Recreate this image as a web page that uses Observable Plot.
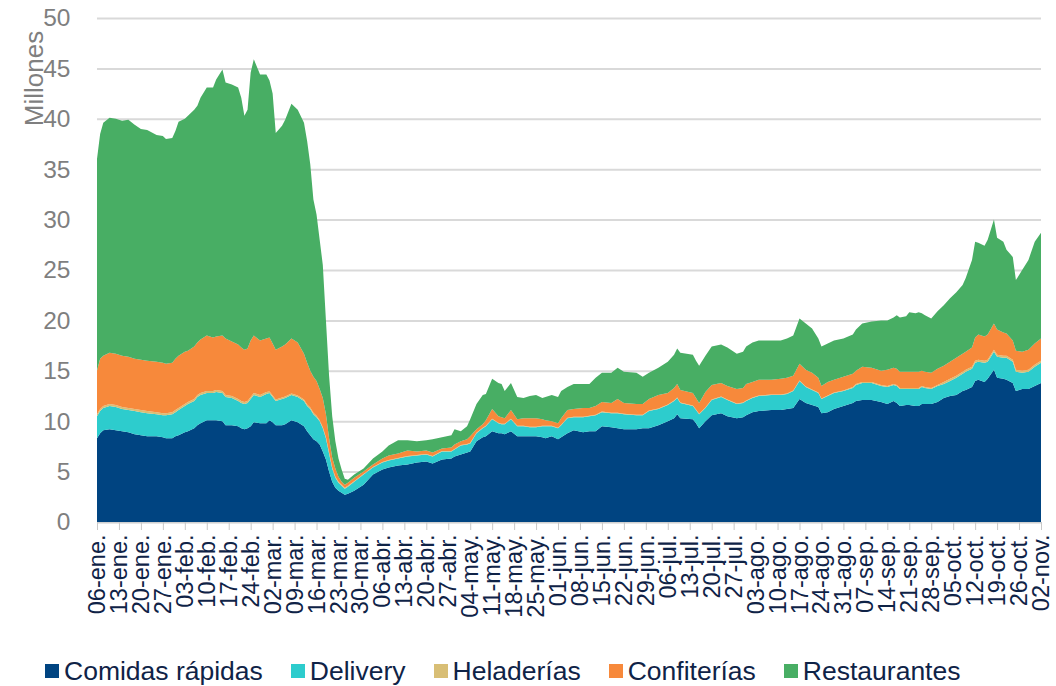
<!DOCTYPE html>
<html><head><meta charset="utf-8">
<script src="https://cdn.jsdelivr.net/npm/d3@7"></script>
<script src="https://cdn.jsdelivr.net/npm/@observablehq/plot@0.6"></script>
<style>
body{margin:0;background:#fff;font-family:"Liberation Sans",Arial,sans-serif;}
#legend{display:flex;align-items:center;height:46px;padding-left:45px;font-size:26.5px;color:#0f2347;}
.item{display:flex;align-items:center;margin-right:28px;}
.sw{width:14px;height:14px;margin-right:5px;}
</style></head><body>
<div id="chart"></div><div id="legend"></div>
<script>
const series = ["Comidas rápidas","Delivery","Heladerías","Confiterías","Restaurantes"];
const colores = ["#004481","#2dcccd","#d8be75","#f7893b","#48ae64"];
const meses = ["ene","feb","mar","abr","may","jun","jul","ago","sep","oct","nov","dic"];
const yTicks = [0,5,10,15,20,25,30,35,40,45,50];

const fechas = ["2020-01-06","2020-01-07","2020-01-08","2020-01-10","2020-01-12","2020-01-14","2020-01-16","2020-01-18","2020-01-20","2020-01-22",
"2020-01-25","2020-01-27","2020-01-28","2020-01-30","2020-01-31","2020-02-01","2020-02-03","2020-02-04","2020-02-06","2020-02-07",
"2020-02-08","2020-02-10","2020-02-12","2020-02-13","2020-02-15","2020-02-16","2020-02-18","2020-02-20","2020-02-21","2020-02-22",
"2020-02-23","2020-02-24","2020-02-25","2020-02-27","2020-02-29","2020-03-01","2020-03-02","2020-03-03","2020-03-05","2020-03-06",
"2020-03-08","2020-03-10","2020-03-12","2020-03-13","2020-03-14","2020-03-15","2020-03-16","2020-03-17","2020-03-18","2020-03-19",
"2020-03-20","2020-03-21","2020-03-22","2020-03-23","2020-03-24","2020-03-25","2020-03-26","2020-03-28","2020-03-31","2020-04-03",
"2020-04-06","2020-04-08","2020-04-11","2020-04-14","2020-04-17","2020-04-20","2020-04-22","2020-04-25","2020-04-28","2020-04-29",
"2020-05-01","2020-05-03","2020-05-04","2020-05-06","2020-05-08","2020-05-09","2020-05-11","2020-05-13","2020-05-14","2020-05-15",
"2020-05-17","2020-05-19","2020-05-21","2020-05-23","2020-05-25","2020-05-27","2020-05-28","2020-05-30","2020-06-01","2020-06-02",
"2020-06-04","2020-06-06","2020-06-09","2020-06-11","2020-06-13","2020-06-15","2020-06-18","2020-06-20","2020-06-22","2020-06-26",
"2020-06-28","2020-06-30","2020-07-03","2020-07-06","2020-07-08","2020-07-09","2020-07-10","2020-07-14","2020-07-15","2020-07-16",
"2020-07-18","2020-07-20","2020-07-23","2020-07-25","2020-07-28","2020-07-30","2020-07-31","2020-08-02","2020-08-04","2020-08-08",
"2020-08-11","2020-08-13","2020-08-15","2020-08-17","2020-08-19","2020-08-21","2020-08-23","2020-08-24","2020-08-26","2020-08-28",
"2020-08-31","2020-09-03","2020-09-04","2020-09-06","2020-09-09","2020-09-12","2020-09-14","2020-09-16","2020-09-17","2020-09-18",
"2020-09-20","2020-09-21","2020-09-23","2020-09-24","2020-09-25","2020-09-26","2020-09-28","2020-09-30","2020-10-02","2020-10-04",
"2020-10-06","2020-10-08","2020-10-09","2020-10-11","2020-10-12","2020-10-13","2020-10-15","2020-10-16","2020-10-18","2020-10-19",
"2020-10-21","2020-10-22","2020-10-24","2020-10-25","2020-10-27","2020-10-29","2020-10-31","2020-11-02"];

const comidas = [8.3,8.8,9.1,9.2,9.1,9.0,8.9,8.7,8.6,8.5,
8.5,8.4,8.3,8.3,8.5,8.6,8.9,9.0,9.3,9.6,
9.8,10.1,10.1,10.1,10.0,9.6,9.6,9.5,9.3,9.2,
9.3,9.5,9.9,9.8,9.8,10.1,9.9,9.6,9.6,9.7,
10.1,9.9,9.5,9.0,8.6,8.2,8.0,7.7,7.0,6.2,
5.0,4.0,3.4,3.1,2.9,2.7,2.8,3.1,3.7,4.7,
5.2,5.4,5.6,5.7,5.9,6.0,5.8,6.2,6.3,6.5,
6.7,6.9,7.0,8.0,8.4,8.5,9.0,8.8,8.8,8.7,
9.0,8.5,8.5,8.5,8.5,8.4,8.3,8.5,8.2,8.4,
8.8,9.1,8.9,9.0,9.0,9.5,9.4,9.3,9.2,9.2,
9.3,9.3,9.6,10.0,10.3,10.7,10.3,10.2,9.8,9.3,
10.0,10.6,10.8,10.5,10.3,10.4,10.6,10.9,11.0,11.1,
11.1,11.2,11.3,12.2,11.8,11.6,11.4,10.8,10.9,11.2,
11.5,11.8,12.0,12.1,12.1,11.9,11.7,12.0,11.8,11.5,
11.6,11.6,11.5,11.5,11.7,11.7,11.7,11.9,12.3,12.5,
12.6,13.0,13.1,13.4,14.0,14.1,13.9,14.2,15.1,14.3,
14.2,14.1,13.8,13.0,13.2,13.2,13.5,13.8];

const delivery = [2.2,2.2,2.2,2.3,2.3,2.2,2.2,2.3,2.3,2.3,
2.2,2.2,2.3,2.4,2.4,2.5,2.6,2.7,2.7,2.8,
2.8,2.7,2.7,2.8,2.8,2.8,2.7,2.5,2.5,2.5,
2.5,2.7,2.7,2.6,2.9,2.7,2.5,2.4,2.6,2.6,
2.5,2.5,2.5,2.5,2.6,2.5,2.4,2.3,2.3,2.1,
1.8,1.3,1.0,0.8,0.7,0.6,0.7,0.9,1.0,0.7,
0.7,0.7,0.7,0.8,0.7,0.7,0.7,0.8,0.7,0.7,
0.9,0.8,0.8,0.8,0.9,1.0,1.2,1.0,0.9,1.0,
1.2,1.0,1.0,0.9,0.9,1.1,1.2,1.0,1.1,1.2,
1.5,1.3,1.5,1.5,1.6,1.4,1.4,1.5,1.5,1.4,
1.3,1.7,1.6,1.6,1.7,1.6,1.5,1.3,1.3,1.4,
1.3,1.5,1.6,1.6,1.4,1.4,1.4,1.4,1.5,1.5,
1.5,1.5,1.7,1.8,1.6,1.5,1.4,1.4,1.6,1.6,
1.5,1.5,1.6,1.7,1.7,1.6,1.7,1.6,1.7,1.7,
1.6,1.6,1.7,1.7,1.7,1.6,1.5,1.6,1.4,1.5,
1.7,1.7,1.8,1.8,1.8,1.8,1.9,1.7,1.8,2.1,
2.1,2.2,2.1,1.9,1.6,1.7,1.9,2.0];

const heladerias = [0.2,0.2,0.2,0.2,0.2,0.2,0.2,0.2,0.2,0.2,
0.2,0.2,0.2,0.2,0.2,0.2,0.2,0.2,0.2,0.2,
0.2,0.2,0.2,0.2,0.2,0.2,0.2,0.2,0.2,0.2,
0.2,0.2,0.2,0.2,0.2,0.15,0.15,0.15,0.15,0.15,
0.15,0.15,0.15,0.15,0.15,0.15,0.15,0.1,0.1,0.1,
0.1,0.1,0.1,0.1,0.1,0.1,0.1,0.05,0.05,0.05,
0.05,0.05,0.05,0.05,0.05,0.05,0.05,0.05,0.05,0.05,
0.05,0.05,0.05,0.05,0.05,0.05,0.05,0.05,0.05,0.05,
0.05,0.05,0.05,0.05,0.05,0.05,0.05,0.05,0.05,0.05,
0.05,0.05,0.05,0.05,0.05,0.05,0.05,0.05,0.05,0.05,
0.05,0.05,0.05,0.05,0.05,0.05,0.05,0.05,0.05,0.05,
0.05,0.05,0.05,0.05,0.05,0.05,0.05,0.05,0.05,0.05,
0.05,0.05,0.05,0.05,0.05,0.05,0.05,0.05,0.05,0.05,
0.05,0.1,0.1,0.1,0.1,0.1,0.1,0.1,0.1,0.1,
0.1,0.1,0.1,0.1,0.1,0.1,0.1,0.1,0.2,0.2,
0.2,0.2,0.2,0.2,0.2,0.2,0.2,0.2,0.2,0.2,
0.2,0.2,0.2,0.2,0.2,0.2,0.2,0.2];

const confiterias = [4.3,5.0,5.0,5.1,5.1,5.1,5.1,5.0,5.0,5.0,
5.0,5.0,4.9,4.9,5.1,5.2,5.2,5.1,5.2,5.2,
5.3,5.5,5.3,5.3,5.5,5.6,5.4,5.4,5.3,5.2,
5.2,5.6,5.7,5.4,5.3,5.35,5.15,4.95,5.05,5.15,
5.45,5.25,4.55,4.15,3.65,3.55,3.45,3.1,2.9,2.3,
1.4,1.0,0.8,0.5,0.3,0.3,0.3,0.35,0.25,0.25,
0.35,0.45,0.45,0.55,0.35,0.35,0.35,0.25,0.35,0.45,
0.35,0.45,0.65,0.35,0.35,0.55,0.95,0.65,0.65,0.55,
0.85,0.65,0.75,0.85,0.85,0.65,0.55,0.45,0.45,0.65,
0.75,0.75,0.85,0.75,0.85,0.95,0.95,1.35,1.05,1.05,
1.05,1.15,1.35,1.15,1.25,1.35,1.25,1.25,1.15,1.05,
1.55,1.45,1.35,1.35,1.45,1.45,1.65,1.55,1.55,1.45,
1.55,1.55,1.45,1.65,1.65,1.65,1.45,1.25,1.35,1.25,
1.35,1.3,1.3,1.5,1.4,1.4,1.6,1.6,1.6,1.6,
1.6,1.6,1.6,1.6,1.5,1.5,1.5,1.6,1.6,1.7,
1.8,1.8,1.8,1.9,2.3,2.5,2.4,2.5,2.6,2.5,
2.3,2.2,1.9,1.9,1.9,2.0,2.1,2.2];

const restaurantes = [21.0,22.3,23.1,23.3,23.3,23.3,23.5,23.2,22.9,22.9,
22.5,22.5,22.3,22.3,22.6,23.2,23.1,23.3,23.5,23.5,
24.0,24.6,24.8,25.5,26.4,25.4,25.5,25.5,24.8,23.2,
23.7,26.6,27.4,26.4,26.2,25.5,24.8,21.5,21.9,22.3,
23.3,23.1,22.9,22.0,20.5,17.6,16.5,14.8,13.2,9.3,
6.2,4.1,2.7,1.8,1.2,0.6,0.3,0.3,0.3,0.6,
0.7,1.0,1.3,1.0,1.0,1.0,1.3,1.1,1.2,1.5,
1.0,1.3,1.7,2.5,2.9,2.6,3.0,3.3,3.3,2.7,
2.7,2.2,2.0,2.2,2.3,2.1,2.3,2.6,2.6,2.7,
2.3,2.5,2.4,2.4,2.8,2.9,3.0,3.1,3.1,3.1,
2.7,2.6,2.7,3.1,3.3,3.5,3.7,3.8,3.7,3.7,
3.6,3.8,3.8,3.8,3.5,3.6,3.7,3.9,3.9,3.9,
3.8,3.9,4.0,4.5,4.6,4.4,3.9,3.9,3.8,3.9,
3.8,3.9,4.1,4.3,4.6,5.0,4.9,5.0,5.3,5.4,
5.5,5.9,5.8,5.9,5.7,5.6,5.4,5.7,6.0,6.3,
6.5,6.8,7.3,8.7,9.5,9.1,9.0,9.4,10.3,9.1,
9.0,8.3,8.3,7.0,8.1,8.9,10.1,10.5];

const valores = [comidas, delivery, heladerias, confiterias, restaurantes];
const data = series.flatMap((s, i) => fechas.map((f, j) => ({fecha: new Date(f), serie: s, valor: valores[i][j]})));
const semanas = d3.utcMonday.range(new Date("2020-01-06"), new Date("2020-11-03"));
const fmt = d => `${d3.utcFormat("%d")(d)}-${meses[d.getUTCMonth()]}.`;

const chart = Plot.plot({
  width: 1056, height: 648,
  marginLeft: 97, marginRight: 15, marginTop: 18, marginBottom: 126,
  style: {fontFamily: "'Liberation Sans', Arial, sans-serif", background: "white"},
  x: {type: "utc", domain: [new Date("2020-01-06"), new Date("2020-11-02")]},
  y: {domain: [0, 50]},
  color: {domain: series, range: colores},
  marks: [
    Plot.gridY(yTicks, {stroke: "#d9d9d9", strokeOpacity: 1, strokeWidth: 2}),
    Plot.ruleY([0], {stroke: "#d0d0d0", strokeWidth: 1.5}),
    Plot.areaY(data, {x: "fecha", y: "valor", fill: "serie", order: series}),
    Plot.axisY(yTicks, {tickSize: 0, tickPadding: 27, fill: "#7f7f7f", fontSize: 24.5, label: null}),
    Plot.axisX(semanas, {tickRotate: -90, tickSize: 8, stroke: "#c8c8c8", tickFormat: fmt, fill: "#0f2347", fontSize: 23.5, label: null, tickPadding: 4}),
    Plot.text(["Millones"], {frameAnchor: "top-left", dx: -73, dy: 60, rotate: -90, fill: "#7f7f7f", fontSize: 26, textAnchor: "middle"})
  ]
});
document.getElementById("chart").append(chart);

const leg = document.getElementById("legend");
series.forEach((s, i) => {
  const it = document.createElement("div"); it.className = "item";
  const sw = document.createElement("div"); sw.className = "sw"; sw.style.background = colores[i];
  const t = document.createElement("span"); t.textContent = s;
  it.append(sw, t); leg.append(it);
});
</script></body></html>
